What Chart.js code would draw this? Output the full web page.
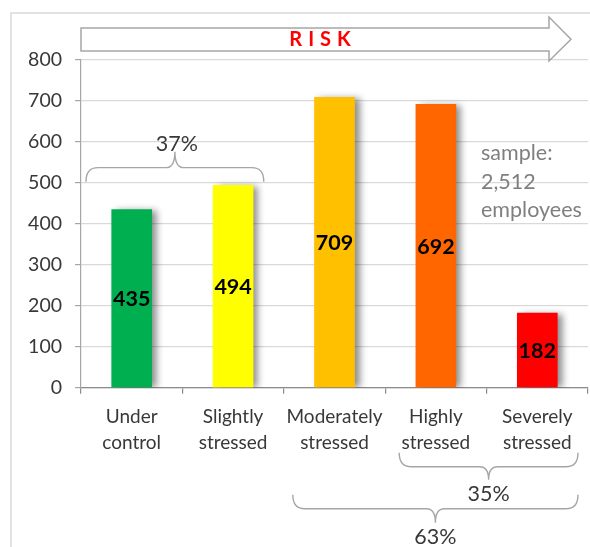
<!DOCTYPE html>
<html>
<head>
<meta charset="utf-8">
<script src="https://cdn.jsdelivr.net/npm/chart.js@4.4.1/dist/chart.umd.min.js"></script>
<style>
  html, body { margin: 0; padding: 0; background: #ffffff; }
  #wrap { position: relative; width: 590px; height: 547px; }
</style>
</head>
<body>
<div id="wrap"><canvas id="chart"></canvas></div>
<script>
// Stress levels across the workforce (number of employees per level)
const categories = [
  ["Under", "control"],
  ["Slightly", "stressed"],
  ["Moderately", "stressed"],
  ["Highly", "stressed"],
  ["Severely", "stressed"]
];
const employees = [435, 494, 709, 692, 182];
const barColors = ["#00B050", "#FFFF00", "#FFC000", "#FF6600", "#FF0000"];
const yTickValues = [0, 100, 200, 300, 400, 500, 600, 700, 800];
const riskWord = "RISK";
const sampleWords = ["sample:", "employees"];

// Groups of categories summarised with a brace and their share of the sample
const groupFirst = [0, 3, 2];
const groupLast = [1, 4, 4];

const FONT = 'Lato, "Liberation Sans", sans-serif';
const TEXT = "#383838";
const LINE = "#a6a6a6";

const total = employees.reduce((a, b) => a + b, 0);
function groupShare(g) {
  let s = 0;
  for (let i = groupFirst[g]; i <= groupLast[g]; i++) s += employees[i];
  return Math.round(s / total * 100) + "%";
}

// Curly brace between x1 and x2: ends at yEnd, bar at yMid, point at yTip
function brace(ctx, x1, x2, yEnd, yMid, yTip) {
  const cx = (x1 + x2) / 2;
  const r = 12, t = 9;
  ctx.beginPath();
  ctx.moveTo(x1, yEnd);
  ctx.quadraticCurveTo(x1, yMid, x1 + r, yMid);
  ctx.lineTo(cx - t, yMid);
  ctx.quadraticCurveTo(cx, yMid, cx, yTip);
  ctx.quadraticCurveTo(cx, yMid, cx + t, yMid);
  ctx.lineTo(x2 - r, yMid);
  ctx.quadraticCurveTo(x2, yMid, x2, yEnd);
  ctx.stroke();
}

const frame = {
  id: "frame",
  beforeDraw(chart) {
    const ctx = chart.ctx;
    ctx.save();
    ctx.strokeStyle = "#d9d9d9";
    ctx.lineWidth = 1.5;
    ctx.beginPath();
    ctx.moveTo(11, chart.height);
    ctx.lineTo(11, 13);
    ctx.lineTo(chart.width, 13);
    ctx.stroke();
    ctx.restore();
  }
};

const barShadow = {
  id: "barShadow",
  beforeDatasetsDraw(chart) {
    const ctx = chart.ctx;
    ctx.save();
    ctx.shadowColor = "rgba(0,0,0,0.45)";
    ctx.shadowBlur = 7;
    ctx.shadowOffsetX = 5;
    ctx.shadowOffsetY = 1;
  },
  afterDatasetsDraw(chart) {
    chart.ctx.restore();
  }
};

const valueLabels = {
  id: "valueLabels",
  afterDatasetsDraw(chart) {
    const ctx = chart.ctx;
    const meta = chart.getDatasetMeta(0);
    ctx.save();
    ctx.font = "bold 21.5px " + FONT;
    ctx.fillStyle = "#000000";
    ctx.textAlign = "center";
    ctx.textBaseline = "middle";
    meta.data.forEach((bar, i) => {
      ctx.fillText(String(employees[i]), bar.x, (bar.y + bar.base) / 2 + 1);
    });
    ctx.restore();
  }
};

const annotations = {
  id: "annotations",
  afterDraw(chart) {
    const ctx = chart.ctx;
    const xs = chart.scales.x, ys = chart.scales.y;
    const area = chart.chartArea;
    const cw = (xs.right - xs.left) / categories.length;
    const edge = i => xs.left + i * cw;

    ctx.save();
    // risk arrow along the top of the plot
    const ax0 = area.left, ax1 = 549, tip = 571;
    ctx.fillStyle = "#ffffff";
    ctx.strokeStyle = LINE;
    ctx.lineWidth = 1.5;
    ctx.beginPath();
    ctx.moveTo(ax0, 28);
    ctx.lineTo(ax1, 28);
    ctx.lineTo(ax1, 17);
    ctx.lineTo(tip, 39.3);
    ctx.lineTo(ax1, 61);
    ctx.lineTo(ax1, 51);
    ctx.lineTo(ax0, 51);
    ctx.closePath();
    ctx.fill();
    ctx.stroke();

    ctx.font = "bold 20px " + FONT;
    ctx.fillStyle = "#FF0000";
    ctx.textBaseline = "middle";
    ctx.textAlign = "left";
    const gap = 6;
    let w = 0;
    for (const ch of riskWord) w += ctx.measureText(ch).width;
    w += gap * (riskWord.length - 1);
    let x = 320 - w / 2;
    for (const ch of riskWord) {
      ctx.fillText(ch, x, 40);
      x += ctx.measureText(ch).width + gap;
    }

    // braces with group shares
    ctx.strokeStyle = LINE;
    ctx.lineWidth = 1.4;
    ctx.fillStyle = TEXT;
    ctx.textAlign = "center";
    ctx.font = "21.5px " + FONT;

    // above the first two bars
    const yE = ys.getPixelForValue(503);
    const b0x1 = edge(groupFirst[0]) + 5, b0x2 = edge(groupLast[0] + 1) - 20;
    brace(ctx, b0x1, b0x2, yE, yE - 14, yE - 30);
    ctx.fillText(groupShare(0), (b0x1 + b0x2) / 2 + 2, yE - 38);

    // below the category labels
    const bot = area.bottom;
    const b1x1 = edge(groupFirst[1]) + 14, b1x2 = edge(groupLast[1] + 1) - 10;
    brace(ctx, b1x1, b1x2, bot + 65, bot + 79, bot + 92);
    ctx.fillText(groupShare(1), (b1x1 + b1x2) / 2, bot + 106);

    const b2x1 = edge(groupFirst[2]) + 9, b2x2 = edge(groupLast[2] + 1) - 10;
    brace(ctx, b2x1, b2x2, bot + 107, bot + 121, bot + 135);
    ctx.fillText(groupShare(2), (b2x1 + b2x2) / 2, bot + 149);

    // sample size note
    ctx.font = "21.5px " + FONT;
    ctx.fillStyle = "#7f7f7f";
    ctx.textAlign = "left";
    ctx.textBaseline = "alphabetic";
    const notes = [sampleWords[0], total.toLocaleString("en-US"), sampleWords[1]];
    notes.forEach((t, i) => ctx.fillText(t, 481, 160 + i * 28.5));
    ctx.restore();
  }
};

new Chart(document.getElementById("chart"), {
  type: "bar",
  data: {
    labels: categories,
    datasets: [{
      data: employees,
      backgroundColor: barColors,
      borderWidth: 0,
      barThickness: 40
    }]
  },
  options: {
    responsive: true,
    maintainAspectRatio: false,
    animation: false,
    events: [],
    layout: { padding: { top: 60, right: 2, left: 0, bottom: 0 } },
    plugins: {
      legend: { display: false },
      tooltip: { enabled: false },
      title: { display: false }
    },
    scales: {
      x: {
        grid: {
          offset: true,
          drawOnChartArea: false,
          drawTicks: true,
          tickLength: 6,
          tickColor: "#8c8c8c",
          lineWidth: 1.2
        },
        border: { display: true, color: "#8c8c8c", width: 1.2 },
        ticks: {
          color: TEXT,
          font: { family: FONT, size: 19, lineHeight: 1.37 },
          padding: 10,
          maxRotation: 0,
          autoSkip: false
        },
        afterFit(scale) { scale.height = 547 - 387.7; }
      },
      y: {
        min: 0,
        max: 800,
        afterBuildTicks(scale) { scale.ticks = yTickValues.map(v => ({ value: v })); },
        grid: {
          color: "#d9d9d9",
          lineWidth: 1.2,
          tickLength: 6,
          tickColor: LINE
        },
        border: { display: true, color: LINE, width: 1.2 },
        ticks: {
          color: TEXT,
          font: { family: FONT, size: 19.5 },
          padding: 13
        },
        afterFit(scale) { scale.width = 81; }
      }
    }
  },
  plugins: [frame, barShadow, valueLabels, annotations]
});
</script>
</body>
</html>
